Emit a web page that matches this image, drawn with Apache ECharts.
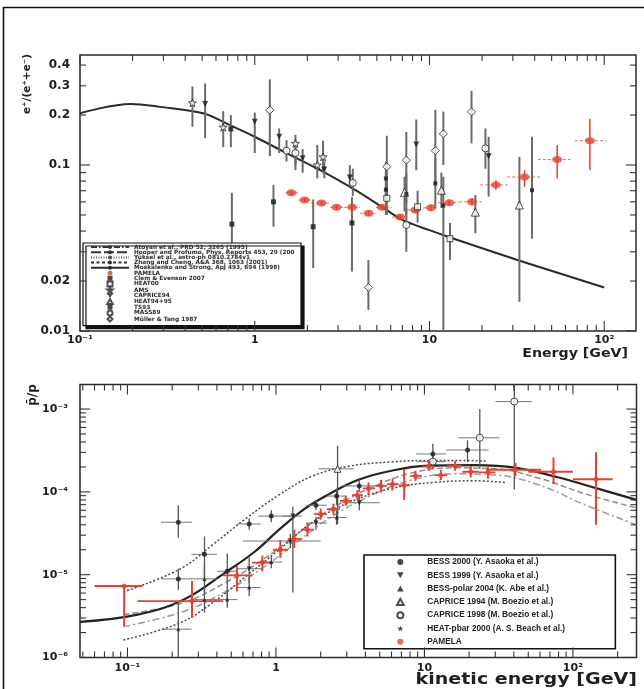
<!DOCTYPE html>
<html><head><meta charset="utf-8">
<script src="https://cdn.jsdelivr.net/npm/echarts@6/dist/echarts.min.js"></script>
<style>html,body{margin:0;padding:0;background:#fff}#c{width:644px;height:689px}</style>
</head><body><div id="c"></div>
<script>
// ================= DATA =================
// ---- Top panel: positron fraction e+/(e+ + e-) vs Energy [GeV] ----
const topXLabelMap = {'-1':'10⁻¹','0':'1','1':'10','2':'10²'};
const topYLabelValues = [0.01, 0.02, 0.1, 0.2, 0.3, 0.4];
const topYLabelTexts  = ['0.01','0.02','0.1','0.2','0.3','0.4'];

// Moskalenko & Strong model curve
const msCurveE = [0.1, 0.195, 0.287, 0.506, 0.72, 1.0, 1.54, 2.37, 3.65, 5.34, 7.0, 10, 13.4, 31.8, 100];
const msCurveV = [0.205, 0.233, 0.224, 0.205, 0.174, 0.148, 0.117, 0.093, 0.072, 0.056, 0.0467, 0.0405, 0.0363, 0.0268, 0.0183];

// PAMELA positron fraction
const pamPosE   = [1.62, 1.93, 2.41, 2.94, 3.61, 4.49, 5.34, 6.8, 8.3, 10.2, 13.0, 17.5, 24, 35, 53.8, 82.8];
const pamPosV   = [0.068, 0.0615, 0.059, 0.0556, 0.0556, 0.0512, 0.0556, 0.0486, 0.0536, 0.0552, 0.0593, 0.060, 0.0759, 0.0847, 0.108, 0.14];
const pamPosElo = [1.5, 1.77, 2.1, 2.7, 3.25, 4.0, 4.95, 6.1, 7.5, 9.2, 11.2, 14.8, 19.5, 27.8, 41.7, 68];
const pamPosEhi = [1.77, 2.1, 2.7, 3.25, 4.0, 4.95, 6.1, 7.5, 9.2, 11.2, 14.8, 20, 28, 43, 64, 103];
const pamPosVlo = [0.066, 0.0597, 0.0572, 0.0538, 0.0538, 0.0494, 0.0536, 0.0466, 0.0514, 0.0528, 0.0566, 0.057, 0.071, 0.074, 0.083, 0.093];
const pamPosVhi = [0.070, 0.0633, 0.0608, 0.0574, 0.0574, 0.053, 0.0576, 0.0506, 0.0558, 0.0576, 0.062, 0.063, 0.081, 0.093, 0.132, 0.19];

// other experiments: [E, value, low, high]
const posClem     = [[0.73,0.165,0.128,0.2],[0.74,0.044,0.0233,0.068],[1.28,0.06,0.0425,0.076],[2.16,0.0425,0.024,0.062],[3.6,0.0448,0.0228,0.064]];
const posHeat00   = [[5.7,0.063,0.05,0.08],[8.55,0.056,0.045,0.07],[13.1,0.036,0.0268,0.0448]];
const posAms      = [[0.44,0.237,0.17,0.297],[0.66,0.169,0.128,0.211],[1.71,0.135,0.093,0.152],[2.28,0.1,0.083,0.132],[2.46,0.112,0.09,0.14]];
const posCaprice94= [[0.52,0.233,0.145,0.31],[1.0,0.182,0.118,0.207],[1.38,0.148,0.118,0.166],[1.88,0.11,0.09,0.125],[2.5,0.094,0.083,0.105],[3.5,0.084,0.074,0.1],[8.4,0.133,0.093,0.188],[21.8,0.113,0.0645,0.148]];
const posHeat9495 = [[7.2,0.0685,0.0525,0.085],[11.7,0.0705,0.055,0.09],[18.3,0.052,0.0388,0.066],[32.7,0.0574,0.015,0.112]];
const posTs93     = [[5.63,0.083,0.063,0.105],[5.63,0.071,0.05,0.09],[7.37,0.067,0.05,0.09],[10.8,0.0775,0.055,0.11],[12,0.057,0.005,0.085],[38.6,0.0705,0.036,0.148]];
const posMass89   = [[1.52,0.122,0.105,0.141],[1.71,0.118,0.1,0.13],[3.64,0.078,0.065,0.095],[7.37,0.0435,0.03,0.055],[20.9,0.126,0.095,0.166]];
const posMuller   = [[1.22,0.214,0.113,0.328],[4.47,0.0183,0.0134,0.0268],[5.7,0.0977,0.063,0.15],[7.37,0.107,0.059,0.158],[10.8,0.122,0.074,0.215],[12,0.154,0.1,0.21],[17.4,0.209,0.135,0.28]];

// ---- Bottom panel: antiproton/proton ratio vs kinetic energy [GeV] ----
const botXLabelMap = {'-1':'10⁻¹','0':'1','1':'10','2':'10²'};
const botYLabelMap = {'-6':'10⁻⁶','-5':'10⁻⁵','-4':'10⁻⁴','-3':'10⁻³'};

const pbarSolidE = [0.0479, 0.117, 0.239, 0.455, 0.715, 1.05, 1.55, 2.28, 3.59, 6.0, 10.7, 21.8, 41.6, 79, 151, 268];
const pbarSolidV = [2.7e-6, 3.3e-6, 5.0e-6, 1.06e-5, 1.88e-5, 3.5e-5, 6.2e-5, 9.4e-5, 1.4e-4, 1.8e-4, 2.07e-4, 2.1e-4, 1.95e-4, 1.5e-4, 1.08e-4, 8.0e-5];
const pbarUpE    = [0.094, 0.224, 0.375, 0.63, 1.05, 1.76, 3.15, 6.0, 11.5, 18, 26];
const pbarUpV    = [6.2e-6, 1.16e-5, 2.3e-5, 4.8e-5, 9.2e-5, 1.55e-4, 2.05e-4, 2.3e-4, 2.4e-4, 2.4e-4, 2.35e-4];
const pbarMid1E  = [0.094, 0.239, 0.455, 0.81, 1.36, 2.28, 4.35, 8.3, 15.8, 30, 60, 120, 268];
const pbarMid1V  = [3.3e-6, 4.6e-6, 8.0e-6, 1.5e-5, 3.0e-5, 6.0e-5, 1.12e-4, 1.7e-4, 1.95e-4, 1.9e-4, 1.45e-4, 9.5e-5, 6.4e-5];
const pbarMid2E  = [0.094, 0.239, 0.455, 0.81, 1.36, 2.28, 4.35, 8.3, 15.8, 30, 60, 120, 268];
const pbarMid2V  = [2.35e-6, 3.6e-6, 6.2e-6, 1.2e-5, 2.4e-5, 4.8e-5, 9.0e-5, 1.4e-4, 1.65e-4, 1.6e-4, 1.2e-4, 7.0e-5, 4.0e-5];
const pbarLowE   = [0.094, 0.224, 0.375, 0.63, 1.05, 1.76, 3.15, 6, 11.5, 21.8, 35];
const pbarLowV   = [1.63e-6, 2.6e-6, 4.6e-6, 9.6e-6, 2.0e-5, 4.3e-5, 7.5e-5, 1.1e-4, 1.3e-4, 1.36e-4, 1.3e-4];

// PAMELA antiproton/proton
const pamPbarE   = [0.095, 0.272, 0.546, 0.81, 1.07, 1.33, 1.63, 2.0, 2.44, 2.95, 3.54, 4.2, 5.1, 6.1, 7.3, 8.7, 10.7, 12.9, 16.1, 20.5, 26.8, 41, 74, 143];
const pamPbarV   = [7.3e-6, 4.8e-6, 9.8e-6, 1.4e-5, 2.0e-5, 2.7e-5, 3.5e-5, 5.4e-5, 6.2e-5, 7.8e-5, 9.1e-5, 1.1e-4, 1.18e-4, 1.24e-4, 1.2e-4, 1.56e-4, 2.02e-4, 1.59e-4, 2.06e-4, 1.75e-4, 1.72e-4, 1.85e-4, 1.75e-4, 1.42e-4];
const pamPbarElo = [0.06, 0.117, 0.44, 0.69, 0.955, 1.2, 1.48, 1.8, 2.2, 2.7, 3.25, 3.85, 4.65, 5.6, 6.7, 8.0, 9.6, 11.8, 14.2, 18, 23.3, 26, 50, 100];
const pamPbarEhi = [0.126, 0.44, 0.69, 0.955, 1.2, 1.48, 1.8, 2.2, 2.7, 3.25, 3.85, 4.65, 5.6, 6.7, 8.0, 9.6, 11.8, 14.2, 18, 23.3, 30, 61, 100, 185];
const pamPbarVlo = [2.4e-6, 3.0e-6, 6.3e-6, 1.1e-5, 1.6e-5, 2.1e-5, 2.9e-5, 4.6e-5, 5.3e-5, 6.8e-5, 7.9e-5, 9.2e-5, 9.8e-5, 1.04e-4, 8.0e-5, 1.35e-4, 1.8e-4, 1.38e-4, 1.8e-4, 1.5e-4, 1.45e-4, 1.55e-4, 1.24e-4, 4.0e-5];
const pamPbarVhi = [7.3e-6, 8.4e-6, 1.27e-5, 1.7e-5, 2.6e-5, 3.5e-5, 4.2e-5, 6.3e-5, 7.2e-5, 9.0e-5, 1.05e-4, 1.3e-4, 1.4e-4, 1.46e-4, 1.9e-4, 1.8e-4, 2.35e-4, 1.85e-4, 2.36e-4, 2.05e-4, 2.02e-4, 2.25e-4, 2.6e-4, 3.0e-4];

// other experiments: [E, value, low, high, Elow, Ehigh]
const pbarBess2000  = [[0.22,4.3e-5,2.8e-5,6.9e-5,0.168,0.272],[0.22,8.9e-6,6.6e-6,1.18e-5,0.168,0.272],[0.33,1.76e-5,9e-6,2.9e-5,0.27,0.4],[0.47,1.1e-5,5e-6,1.8e-5,0.4,0.55],[0.66,4.1e-5,3.5e-5,4.8e-5,0.55,0.79],[0.93,5.1e-5,4.3e-5,6.0e-5,0.76,1.28],[1.86,6.9e-5,6e-5,8e-5,1.6,2.2],[2.56,8.9e-5,7e-5,1.1e-4,2.2,3.0],[3.64,1.18e-4,1.0e-4,1.4e-4,2.8,5.0],[11.4,2.87e-4,2.2e-4,3.8e-4,8.8,14],[19.5,3.2e-4,2.3e-4,4.2e-4,14,27]];
const pbarBess1999  = [[0.66,1.18e-5,8e-6,1.6e-5,0.55,0.79],[1.3,5.1e-5,6.1e-6,6.6e-5,1.1,1.5],[1.86,4.2e-5,3.5e-5,5e-5,1.6,2.2],[3.64,7.4e-5,6e-5,9e-5,2.8,5.0]];
const pbarBessPolar = [[0.22,2.2e-6,1e-6,4.6e-6,0.17,0.27],[0.33,5.0e-6,3.5e-6,7e-6,0.27,0.4],[0.33,8.9e-6,6e-6,1.3e-5,0.27,0.4],[0.47,5.0e-6,4e-6,6.5e-6,0.4,0.55],[0.66,7.0e-6,5.5e-6,9e-6,0.55,0.79],[0.93,1.42e-5,1.2e-5,1.7e-5,0.8,1.1],[2.56,4.9e-5,4e-5,6e-5,2.2,3.0]];
const pbarCaprice94 = [[2.6,1.9e-4,4.1e-5,3.6e-4,1.94,3.36]];
const pbarCaprice98 = [[11.4,2.32e-4,1.9e-4,2.8e-4,9,14],[23.6,4.5e-4,1.9e-4,1e-3,17,32],[40.3,1.23e-3,1.07e-4,4e-3,30,53]];
const pbarHeat2000  = [[1.25,2.55e-5,2.1e-5,3.1e-5,0.6,2.0]];

// ================= HELPERS =================
const TXT = '#1e1e1e';
const AX_FONT = 'DejaVu Sans';
function powLabel(map){
  return function(v){
    const l = Math.log10(v), e = Math.round(l);
    if (Math.abs(l - e) > 1e-6) return '';
    return map[String(e)] || '';
  };
}
function logTicks(lo, hi){
  const out = [];
  for (let k = -7; k <= 3; k++) for (let n = 1; n <= 9; n++) {
    const v = n * Math.pow(10, k);
    if (v >= lo * 0.9999 && v <= hi * 1.0001) out.push([v, n === 1 ? 1 : 0]);
  }
  return out;
}
function xTickSeries(gi, xmin, xmax, yref){
  return {type:'custom', xAxisIndex:gi, yAxisIndex:gi, silent:true, clip:false, z:20,
    data: logTicks(xmin, xmax).map(t => [t[0], yref, t[1]]),
    renderItem: function(params, api){
      const cs = params.coordSys, p = api.coord([api.value(0), api.value(1)]);
      const L = api.value(2) ? 10 : 6, b = cs.y + cs.height;
      const st = {stroke:'#333', lineWidth:1.1};
      return {type:'group', children:[
        {type:'line', shape:{x1:p[0], y1:b, x2:p[0], y2:b - L}, style:st},
        {type:'line', shape:{x1:p[0], y1:cs.y, x2:p[0], y2:cs.y + L}, style:st}]};
    }};
}
function yTickSeries(gi, ymin, ymax, xref){
  return {type:'custom', xAxisIndex:gi, yAxisIndex:gi, silent:true, clip:false, z:20,
    data: logTicks(ymin, ymax).map(t => [xref, t[0], t[1]]),
    renderItem: function(params, api){
      const cs = params.coordSys, p = api.coord([api.value(0), api.value(1)]);
      const L = api.value(2) ? 10 : 6, r = cs.x + cs.width;
      const st = {stroke:'#333', lineWidth:1.1};
      return {type:'group', children:[
        {type:'line', shape:{x1:cs.x, y1:p[1], x2:cs.x + L, y2:p[1]}, style:st},
        {type:'line', shape:{x1:r, y1:p[1], x2:r - L, y2:p[1]}, style:st}]};
    }};
}
function errSeries(gi, rows, vStroke, vWidth, hStroke, hWidth, hDash){
  return {type:'custom', xAxisIndex:gi, yAxisIndex:gi, silent:true, clip:true, z:3,
    encode:{x:0, y:1}, data: rows,
    renderItem: function(params, api){
      const x = api.value(0), y = api.value(1);
      const c = api.coord([x, y]), lo = api.coord([x, api.value(2)]), hi = api.coord([x, api.value(3)]);
      const ch = [{type:'line', shape:{x1:c[0], y1:lo[1], x2:c[0], y2:hi[1]}, style:{stroke:vStroke, lineWidth:vWidth}}];
      const xl = api.value(4), xh = api.value(5);
      if (xh > xl) {
        const a = api.coord([xl, y]), b = api.coord([xh, y]);
        ch.push({type:'line', shape:{x1:a[0], y1:c[1], x2:b[0], y2:c[1]}, style:{stroke:hStroke, lineWidth:hWidth, lineDash:hDash || null}});
      }
      return {type:'group', children:ch};
    }};
}
const rowsNoX = rows => rows.map(r => [r[0], r[1], r[2], r[3], r[0], r[0]]);
const openStyle = {color:'#fff', borderColor:'#222', borderWidth:1};
const fillStyle = {color:'#1a1a1a'};
const STAR = 'path://M5,0 L6.2,3.6 L10,3.6 L6.9,5.9 L8.1,9.5 L5,7.3 L1.9,9.5 L3.1,5.9 L0,3.6 L3.8,3.6 Z';
const DOWNTRI = 'path://M0,0 L10,0 L5,9 Z';
const UPTRI = 'path://M5,0 L10,9 L0,9 Z';
const SQUARE = 'path://M0,0 L10,0 L10,10 L0,10 Z';
const DIAMOND = 'path://M5,0 L10,5 L5,10 L0,5 Z';
const RED = '#e8402a';

function scatter(gi, name, rows, symbol, size, style){
  return {type:'scatter', name, xAxisIndex:gi, yAxisIndex:gi, z:5, symbol, symbolSize:size,
    itemStyle:style, data: rows.map(r => [r[0], r[1]])};
}
function curve(gi, name, E, V, color, width, type, smooth){
  return {type:'line', name, xAxisIndex:gi, yAxisIndex:gi, z:2, symbol:'none', smooth: smooth, silent:true,
    color, lineStyle:{color, width, type}, data: E.map((e, i) => [e, V[i]])};
}

// ================= NAMES =================
const nAtoyan = 'Atoyan et al., PRD 52, 3265 (1995)';
const nHooper = 'Hooper and Profumo, Phys. Reports 453, 29 (2007)';
const nYuksel = 'Yüksel et al., astro-ph 0810.2784v1';
const nZhang  = 'Zhang and Cheng, A&A 368, 1063 (2001)';
const nMosk   = 'Moskalenko and Strong, ApJ 493, 694 (1998)';
const topLegendNames = [nAtoyan, nHooper, nYuksel, nZhang, nMosk, 'PAMELA', 'Clem & Evenson 2007', 'HEAT00', 'AMS', 'CAPRICE94', 'HEAT94+95', 'TS93', 'MASS89', 'Müller & Tang 1987'];
const botLegendNames = ['BESS 2000 (Y. Asaoka et al.)', 'BESS 1999 (Y. Asaoka et al.)', 'BESS-polar 2004 (K. Abe et al.)', 'CAPRICE 1994 (M. Boezio et al.)', 'CAPRICE 1998 (M. Boezio et al.)', 'HEAT-pbar 2000 (A. S. Beach et al.)', 'PAMELA '];

// ================= SERIES =================
const grayErr = '#6a6a6a';
const topOthers = [].concat(posClem, posHeat00, posAms, posCaprice94, posHeat9495, posTs93, posMass89, posMuller);
const botOthers = [].concat(pbarBess2000, pbarBess1999, pbarBessPolar, pbarCaprice94, pbarCaprice98, pbarHeat2000);

const series = [
  // top panel
  curve(0, nAtoyan, [], [], '#333', 1.2, [6, 2, 1.5, 2], false),
  curve(0, nHooper, [], [], '#333', 1.2, [10, 3], false),
  curve(0, nYuksel, [], [], '#555', 1, [1, 1.5], false),
  curve(0, nZhang,  [], [], '#333', 1.4, [3, 2.5], false),
  curve(0, nMosk, msCurveE, msCurveV, '#2a2a2a', 2, 'solid', 0.35),
  errSeries(0, rowsNoX(topOthers), grayErr, 2, grayErr, 1),
  errSeries(0, pamPosE.map((e, i) => [e, pamPosV[i], pamPosVlo[i], pamPosVhi[i], pamPosElo[i], pamPosEhi[i]]), RED, 1.5, 'rgba(232,64,42,0.75)', 1, [3, 2]),
  scatter(0, 'PAMELA', pamPosE.map((e, i) => [e, pamPosV[i]]), 'circle', [10, 7], {color:RED}),
  scatter(0, 'Clem & Evenson 2007', posClem, SQUARE, 5, fillStyle),
  scatter(0, 'HEAT00', posHeat00, SQUARE, 6, openStyle),
  scatter(0, 'AMS', posAms, STAR, 8, openStyle),
  scatter(0, 'CAPRICE94', posCaprice94, DOWNTRI, 6, fillStyle),
  scatter(0, 'HEAT94+95', posHeat9495, UPTRI, 8, openStyle),
  scatter(0, 'TS93', posTs93, SQUARE, 4, fillStyle),
  scatter(0, 'MASS89', posMass89, 'circle', 7, openStyle),
  scatter(0, 'Müller & Tang 1987', posMuller, DIAMOND, 8, openStyle),
  xTickSeries(0, 0.1, 152, 0.05),
  yTickSeries(0, 0.01, 0.46, 1),
  {type:'custom', xAxisIndex:0, yAxisIndex:0, silent:true, clip:false, z:20,
    data: topYLabelValues.map(v => [0.1, v]),
    renderItem: function(params, api){
      const p = api.coord([api.value(0), api.value(1)]);
      return {type:'text', x: params.coordSys.x - 10, y: p[1],
        style:{text: topYLabelTexts[params.dataIndex], align:'right', verticalAlign:'middle',
          font:'bold 12px "' + AX_FONT + '"', fill:TXT}};
    }},
  // bottom panel
  curve(1, 'upper', pbarUpE, pbarUpV, '#4a4a4a', 1.5, [2, 2], 0.4),
  curve(1, 'mid1', pbarMid1E, pbarMid1V, '#8c8c8c', 1.5, [6, 3], 0.4),
  curve(1, 'mid2', pbarMid2E, pbarMid2V, '#9a9a9a', 1.5, [7, 3, 2, 3], 0.4),
  curve(1, 'lower', pbarLowE, pbarLowV, '#4a4a4a', 1.5, [2, 2], 0.4),
  curve(1, 'model', pbarSolidE, pbarSolidV, '#222', 2.2, 'solid', 0.4),
  errSeries(1, botOthers, '#555', 1.3, '#777', 1),
  errSeries(1, pamPbarE.map((e, i) => [e, pamPbarV[i], pamPbarVlo[i], pamPbarVhi[i], pamPbarElo[i], pamPbarEhi[i]]), RED, 2, RED, 1.8),
  scatter(1, botLegendNames[0], pbarBess2000, 'circle', 5, fillStyle),
  scatter(1, botLegendNames[1], pbarBess1999, DOWNTRI, 5, fillStyle),
  scatter(1, botLegendNames[2], pbarBessPolar, UPTRI, 4, fillStyle),
  scatter(1, botLegendNames[3], pbarCaprice94, UPTRI, 7, openStyle),
  scatter(1, botLegendNames[4], pbarCaprice98, 'circle', 7, openStyle),
  scatter(1, botLegendNames[5], pbarHeat2000, STAR, 6, fillStyle),
  scatter(1, botLegendNames[6], pamPbarE.map((e, i) => [e, pamPbarV[i]]), 'circle', 5, {color:RED}),
  xTickSeries(1, 0.0479, 268, 1e-5),
  yTickSeries(1, 1e-6, 0.00198, 1)
];

// ================= OPTION =================
function xAxisOpt(gi, min, max, map, labelMargin){
  return {type:'log', logBase:10, gridIndex:gi, min, max,
    axisLine:{show:false}, axisTick:{show:false}, splitLine:{show:false}, minorTick:{show:false},
    axisLabel:{margin:labelMargin, fontFamily:AX_FONT, fontWeight:'bold', fontSize:11, color:TXT, formatter: powLabel(map), hideOverlap:false}};
}
const option = {
  backgroundColor:'#fff',
  animation:false,
  grid:[
    {left:80, top:55, width:556, height:276, show:true, borderColor:'#2a2a2a', borderWidth:1.5, backgroundColor:'transparent', outerBoundsMode:'none', containLabel:false},
    {left:80, top:384.5, width:556.5, height:273, show:true, borderColor:'#2a2a2a', borderWidth:1.5, backgroundColor:'transparent', outerBoundsMode:'none', containLabel:false}
  ],
  xAxis:[
    xAxisOpt(0, 0.1, 152, topXLabelMap, 4),
    xAxisOpt(1, 0.0479, 268, botXLabelMap, 5)
  ],
  yAxis:[
    {type:'log', logBase:10, gridIndex:0, min:0.01, max:0.46,
      axisLine:{show:false}, axisTick:{show:false}, splitLine:{show:false}, minorTick:{show:false}, axisLabel:{show:false}},
    {type:'log', logBase:10, gridIndex:1, min:1e-6, max:0.00198,
      axisLine:{show:false}, axisTick:{show:false}, splitLine:{show:false}, minorTick:{show:false},
      axisLabel:{margin:12, fontFamily:AX_FONT, fontWeight:'bold', fontSize:11, color:TXT, formatter: powLabel(botYLabelMap)}}
  ],
  legend:[
    {orient:'vertical', left:83, top:243, padding:[1, 4, 3, 7], itemWidth:38, itemHeight:5, itemGap:-0.8,
      backgroundColor:'#fff', borderColor:'#111', borderWidth:1.2, shadowColor:'#111', shadowOffsetX:3, shadowOffsetY:3, shadowBlur:0,
      selectedMode:false, z:10, data: topLegendNames,
      textStyle:{fontFamily:'DejaVu Sans', fontWeight:'bold', fontSize:5.8, lineHeight:5.8, color:'#2a2a2a', width:163, overflow:'truncate', ellipsis:''}},
    {orient:'vertical', left:364, top:555, padding:[2, 8, 2, 32], itemWidth:44, itemHeight:6, itemGap:3.3,
      backgroundColor:'#fff', borderColor:'#111', borderWidth:1.6,
      selectedMode:false, z:10, data: botLegendNames,
      textStyle:{fontFamily:'Liberation Sans', fontWeight:'bold', fontSize:8.3, lineHeight:10, color:'#222', width:180, overflow:'truncate'}}
  ],
  graphic:[
    {type:'rect', silent:true, z:-10, shape:{x:3.5, y:7.5, width:700, height:700}, style:{fill:'none', stroke:'#111', lineWidth:1.6}},
    {type:'text', silent:true, x:27, y:84, rotation:Math.PI/2,
      style:{text:'e⁺/(e⁺+e⁻)', font:'bold 10.5px "DejaVu Sans"', fill:TXT, align:'center', verticalAlign:'middle'}},
    {type:'text', silent:true, x:33, y:395, rotation:Math.PI/2,
      style:{text:'p̄/p', font:'bold 12px "DejaVu Sans"', fill:TXT, align:'center', verticalAlign:'middle'}},
    {type:'text', silent:true, x:628, y:354, scaleX:1.18,
      style:{text:'Energy [GeV]', font:'bold 12px "DejaVu Sans"', fill:TXT, align:'right', verticalAlign:'middle'}},
    {type:'text', silent:true, x:637, y:680, scaleX:1.27,
      style:{text:'kinetic energy [GeV]', font:'bold 15px "DejaVu Sans"', fill:TXT, align:'right', verticalAlign:'middle'}}
  ],
  series
};
const chart = echarts.init(document.getElementById('c'), null, {renderer:'canvas'});
chart.setOption(option);
</script>
</body></html>
